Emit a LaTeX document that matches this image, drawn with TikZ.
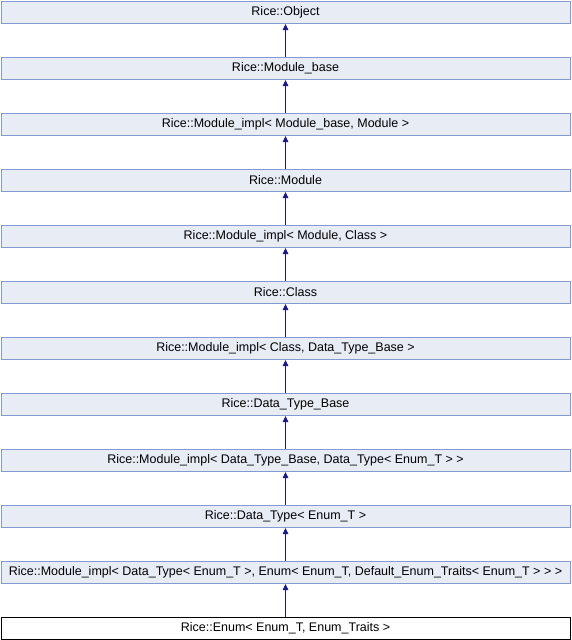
\documentclass[tikz,border=0pt]{standalone}
\usepackage{fontspec}
\setmainfont{Liberation Sans}
\usetikzlibrary{arrows.meta}
\definecolor{boxfill}{HTML}{E8ECF5}
\definecolor{boxline}{HTML}{8399D2}
\definecolor{arrowc}{HTML}{1A1A8A}
\begin{document}
\begin{tikzpicture}[x=1pt,y=-1pt,
  cls/.style={draw=boxline,fill=boxfill,line width=1pt,minimum width=569pt,minimum height=22.5pt,inner sep=0pt,font=\fontsize{12.5pt}{14pt}\selectfont,anchor=north},
  cur/.style={cls,draw=black,fill=white},
  inh/.style={draw=arrowc,line width=0.9pt,-{Triangle[length=6pt,width=5.5pt]}}]
\useasboundingbox (0,0) rectangle (571,640);
\node[cls] (n1) at (285.5,0.5) {Rice::Object};
\node[cls] (n2) at (285.5,56.5) {Rice::Module\_base};
\node[cls] (n3) at (285.5,112.5) {Rice::Module\_impl< Module\_base, Module >};
\node[cls] (n4) at (285.5,168.5) {Rice::Module};
\node[cls] (n5) at (285.5,224.5) {Rice::Module\_impl< Module, Class >};
\node[cls] (n6) at (285.5,280.5) {Rice::Class};
\node[cls] (n7) at (285.5,336.5) {Rice::Module\_impl< Class, Data\_Type\_Base >};
\node[cls] (n8) at (285.5,392.5) {Rice::Data\_Type\_Base};
\node[cls] (n9) at (285.5,448.5) {Rice::Module\_impl< Data\_Type\_Base, Data\_Type< Enum\_T > >};
\node[cls] (n10) at (285.5,504.5) {Rice::Data\_Type< Enum\_T >};
\node[cls] (n11) at (285.5,560.5) {Rice::Module\_impl< Data\_Type< Enum\_T >, Enum< Enum\_T, Default\_Enum\_Traits< Enum\_T > > >};
\node[cur] (n12) at (285.5,616.5) {Rice::Enum< Enum\_T, Enum\_Traits >};
\foreach \a/\b in {n2/n1,n3/n2,n4/n3,n5/n4,n6/n5,n7/n6,n8/n7,n9/n8,n10/n9,n11/n10,n12/n11}
  \draw[inh] (\a.north) -- (\b.south);
\end{tikzpicture}
\end{document}
